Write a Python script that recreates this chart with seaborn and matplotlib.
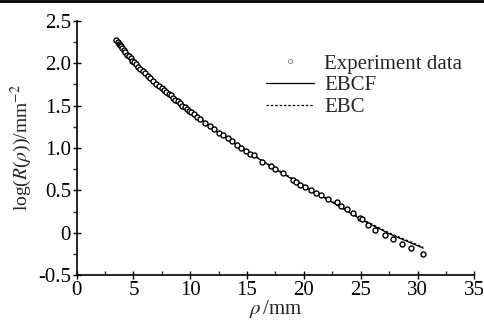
import numpy as np
import pandas as pd
import matplotlib
matplotlib.use("Agg")
import matplotlib.pyplot as plt
import seaborn as sns
from matplotlib.ticker import MultipleLocator
from matplotlib.lines import Line2D

# Experimental data
exp_x = [3.5, 3.6, 3.7, 3.8, 3.9, 4.0, 4.15, 4.3, 4.45, 4.6, 4.75, 4.9, 5.05, 5.2,
         5.4, 5.6, 5.8, 6.0, 6.25, 6.5, 6.75, 7.0, 7.25, 7.5, 7.7, 7.9, 8.1, 8.3,
         8.5, 8.7, 8.9, 9.1, 9.3, 9.5, 9.7, 9.9, 10.1, 10.3, 10.6, 10.9, 11.3, 11.7,
         12.1, 12.5, 12.9, 13.3, 13.7, 14.1, 14.5, 14.9, 15.3, 15.6, 16.3, 17.1,
         17.5, 18.2, 19.0, 19.3, 19.7, 20.1, 20.6, 21.1, 21.5, 22.1, 22.9, 23.3,
         23.8, 24.3, 24.9, 25.1, 25.6, 26.3, 27.1, 27.8, 28.6, 29.4, 30.5]
exp_y = [2.27, 2.25, 2.23, 2.21, 2.20, 2.18, 2.15, 2.13, 2.10, 2.08, 2.06, 2.03, 2.01, 1.99,
         1.96, 1.93, 1.91, 1.88, 1.85, 1.82, 1.79, 1.76, 1.73, 1.71, 1.68, 1.66, 1.64, 1.62,
         1.59, 1.57, 1.55, 1.53, 1.50, 1.48, 1.46, 1.44, 1.42, 1.40, 1.37, 1.34, 1.30, 1.26,
         1.22, 1.18, 1.15, 1.12, 1.08, 1.04, 1.00, 0.97, 0.93, 0.92, 0.84, 0.79,
         0.75, 0.70, 0.62, 0.60, 0.57, 0.54, 0.50, 0.47, 0.45, 0.40, 0.36, 0.32,
         0.28, 0.23, 0.18, 0.16, 0.09, 0.03, -0.03, -0.07, -0.13, -0.18, -0.25]

# Model curves
fit_x = [3.5, 4.0, 5.0, 6.0, 7.5, 9.0, 10.0, 12.5, 15.0, 17.5, 20.0, 22.5, 25.0, 27.5, 30.5]
ebcf_y = [2.27, 2.18, 2.02, 1.88, 1.70, 1.53, 1.44, 1.18, 0.96, 0.75, 0.55, 0.36, 0.16, -0.01, -0.18]
ebc_y = [2.27, 2.18, 2.02, 1.88, 1.70, 1.53, 1.44, 1.18, 0.96, 0.76, 0.56, 0.37, 0.17, 0.00, -0.17]

sns.set_style("ticks")
plt.rcParams['font.family'] = ['Liberation Serif', 'DejaVu Serif']
plt.rcParams['mathtext.fontset'] = 'stix'

fig = plt.figure(figsize=(4.85, 3.25), dpi=100)
ax = fig.add_axes([0.158, 0.153, 0.82, 0.783])

exp_df = pd.DataFrame({"x": exp_x, "y": exp_y})
fit_df = pd.DataFrame({"x": fit_x, "EBCF": ebcf_y, "EBC": ebc_y})

sns.lineplot(data=fit_df, x="x", y="EBCF", ax=ax, color="black", lw=0.9, label="EBCF")
sns.lineplot(data=fit_df, x="x", y="EBC", ax=ax, color="black", lw=0.9,
             linestyle=(0, (2, 1.5)), label="EBC")
sns.scatterplot(data=exp_df, x="x", y="y", ax=ax, marker="o", s=13,
                facecolor="white", edgecolor="black", linewidth=1.0,
                label="Experiment data", zorder=3)

ax.set_xlim(0, 35)
ax.set_ylim(-0.5, 2.5)
ax.xaxis.set_minor_locator(MultipleLocator(2.5))
ax.yaxis.set_minor_locator(MultipleLocator(0.25))
ax.set_yticks([-0.5, 0, 0.5, 1.0, 1.5, 2.0, 2.5])
ax.set_yticklabels(["-0.5", "0", "0.5", "1.0", "1.5", "2.0", "2.5"])
ax.set_xticks([0, 5, 10, 15, 20, 25, 30, 35])
ax.set_xticklabels(["0", "5", "10", "15", "20", "25", "30", "35"])
ax.tick_params(which="major", direction="inout", length=6, width=1, labelsize=15, pad=1, colors="black")
ax.tick_params(axis="x", which="minor", direction="in", length=3, width=1)
ax.tick_params(axis="y", which="minor", direction="out", length=3, width=1)
for s in ["top", "right"]:
    ax.spines[s].set_visible(False)
for s in ["left", "bottom"]:
    ax.spines[s].set_linewidth(1.2)
    ax.spines[s].set_color("black")

ax.set_xlabel(r"$\rho\,$/mm", fontsize=15, labelpad=-1)
ax.set_ylabel(r"log($R$($\rho$))/mm$^{-2}$", fontsize=14, labelpad=3)

handles = [Line2D([], [], marker="o", ls="none", markersize=3, markerfacecolor="white",
                  markeredgecolor="gray", markeredgewidth=0.6),
           Line2D([], [], color="black", lw=0.9),
           Line2D([], [], color="black", lw=0.9, ls=(0, (2, 1.5)))]
ax.legend(handles, ["Experiment data", "EBCF", "EBC"], loc="upper right",
          bbox_to_anchor=(0.995, 0.91), frameon=False, fontsize=15, handlelength=2.3,
          handletextpad=0.5, labelspacing=0.1, borderpad=0)

fig.add_artist(Line2D([0, 1], [0.997, 0.997], transform=fig.transFigure, color="black", lw=2))

fig.savefig("out.png", dpi=100)
